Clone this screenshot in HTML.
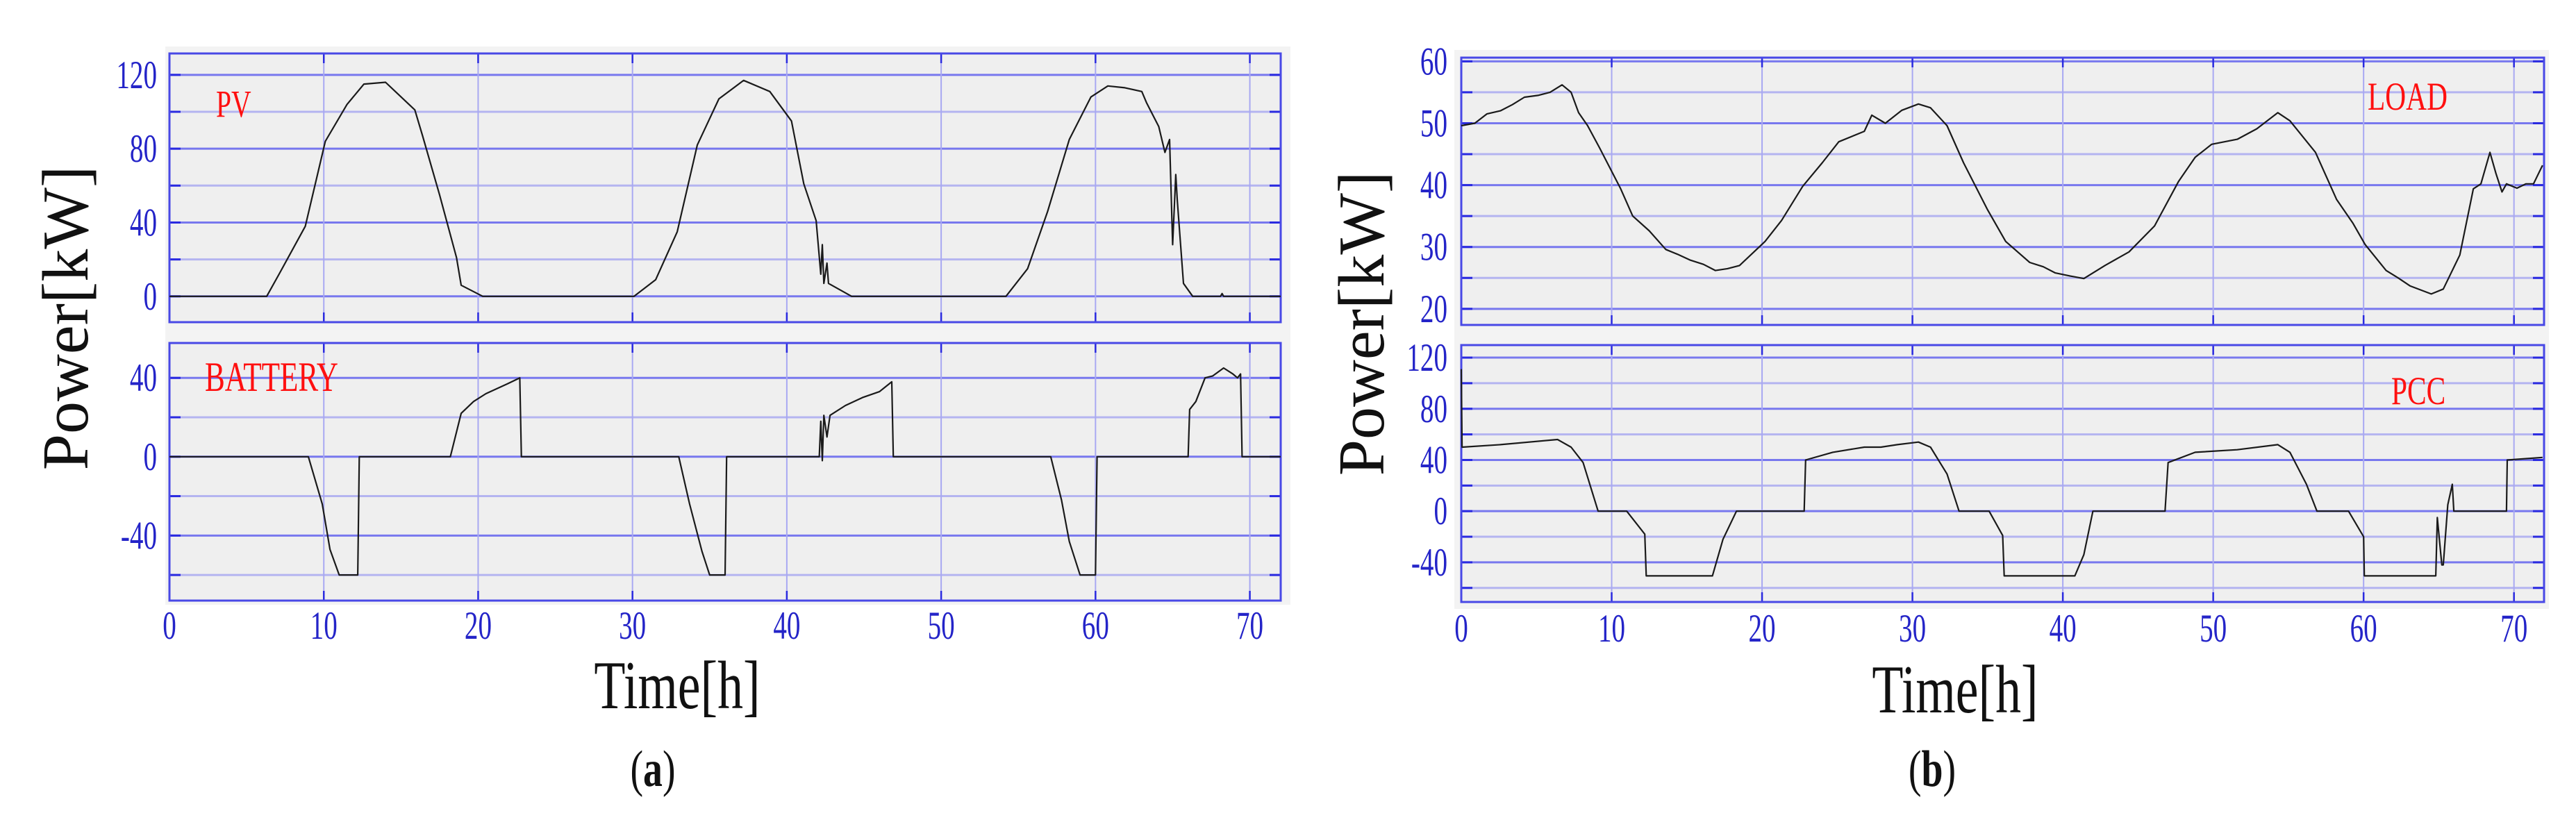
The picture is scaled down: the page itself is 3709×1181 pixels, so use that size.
<!DOCTYPE html>
<html><head><meta charset="utf-8">
<style>
html,body{margin:0;padding:0;background:#fff;}
svg{display:block;}
text{font-family:"Liberation Serif",serif;}
</style></head>
<body>
<svg id="fig" width="3709" height="1181" viewBox="0 0 3709 1181" xmlns="http://www.w3.org/2000/svg">
  <rect x="0" y="0" width="3709" height="1181" fill="#fff"/>
  <g id="root"></g>
</svg>
<script>
// ---- data (time in hours, power in kW) ----
const pvT = [0,6.3,7.1,8.8,10.1,11.5,12.6,14,15.9,16.4,17.5,18.6,18.9,20.3,30.1,31.5,32.9,34.2,35.6,37.2,38.9,40.3,41.1,41.9,42.2,42.3,42.4,42.6,42.7,44.2,54.2,55.6,56.9,58.3,59.7,60.8,61.9,63,63.3,64.1,64.5,64.8,65,65.2,65.3,65.7,66.3,68.1,68.2,68.3,72];
const pvV = [0,0,12,38,84,104,115,116,101,87,55,21,6,0,0,9,35,82,107,117,111,95,61,41,12,28,7,18,7,0,0,15,46,85,108,114,113,111,105,92,78,85,28,66,52,7,0,0,1.5,0,0];
const batT = [0,9.0,9.9,10.4,11,12.2,12.3,18.2,18.9,19.7,20.5,21.9,22.7,22.8,33,33.7,34.5,35,36,36.1,42.1,42.2,42.3,42.4,42.6,42.8,43.8,44.9,46,46.8,46.9,57.1,57.8,58.3,59,60,60.1,66,66.1,66.5,67.1,67.6,68.3,68.9,69.2,69.4,69.5,72];
const batV = [0,0,-24,-47,-60,-60,0,0,22,28,32,37,40,0,0,-24,-48,-60,-60,0,0,18,-2,21,10,21,26,30,33,38,0,0,-22,-43,-60,-60,0,0,24,28,40,41,45,42,40,42,0,0];
const loadT = [0,0.9,1.7,2.6,3.4,4.2,5.1,5.9,6.7,7.3,7.8,8.4,9.2,10.6,11.4,12.5,13.6,14.4,15.2,16.1,16.9,17.7,18.5,20.2,21.3,22.7,24,25.1,26.8,27.3,28.2,29.3,30.4,31.2,32.3,33.4,35,36.2,37.8,38.7,39.5,40.5,41.4,42.8,44.4,46.1,47.7,48.8,49.9,51.6,52.9,54.3,55.1,56.8,58.2,59.3,60.1,61.5,62.3,63.1,64.5,65.3,66.4,67.3,67.8,68.4,68.8,69.2,69.5,70.2,70.8,71.3,71.9];
const loadV = [49.6,50,51.5,52,53,54.2,54.5,55,56.2,55,51.7,49.6,46,39.4,35,32.6,29.6,28.8,27.9,27.2,26.2,26.5,27,30.9,34.3,39.8,43.6,47,48.7,51.3,50,52.1,53.1,52.5,49.6,43.6,36,30.9,27.5,26.8,25.8,25.3,24.9,27,29.2,33.4,40.6,44.5,46.6,47.4,49.1,51.7,50.4,45.3,37.7,33.8,30.4,26.2,25,23.7,22.4,23.2,28.7,39.4,40.2,45.3,41.9,38.9,40.2,39.5,40.2,40.2,43.2];
const pccT = [0,0.05,2.6,6.4,7.3,8.1,9.1,11,12.2,12.3,16.7,17.4,18.3,22.8,22.9,24.7,26.8,27.9,29,30.4,31.2,32.3,33.1,35.1,36,36.1,40.8,41.4,42,46.8,47,48.8,51.6,54.3,55.1,56.2,56.9,59,60,60.05,64.8,64.9,65.2,65.3,65.6,65.9,66,69.5,69.55,71.9];
const pccV = [111,50,52,56,50,38,0,0,-18,-50.6,-50.6,-22,0,0,40,46,50,50,52,54,50,29,0,0,-19,-50.6,-50.6,-34,0,0,38,46,48,52,46,21,0,0,-20,-50.6,-50.6,-5,-42,-42,5,21,0,0,40,42];
const xTicks = [0,10,20,30,40,50,60,70];
const pvTicks = [0,40,80,120];
const batTicks = [-40,0,40];
const loadTicks = [20,30,40,50,60];
const pccTicks = [-40,0,40,80,120];

const NS = "http://www.w3.org/2000/svg";
const root = document.getElementById('root');
function mk(tag, attrs, parent){
  const e = document.createElementNS(NS, tag);
  for (const k in attrs) e.setAttribute(k, attrs[k]);
  (parent||root).appendChild(e);
  return e;
}

function panel(cfg){
  const g = mk('g', {});
  
  
  const xs = t => cfg.x0 + (t - 0) / 72 * (cfg.x1 - cfg.x0);
  const ys = v => cfg.y1 - (v - cfg.vmin) / (cfg.vmax - cfg.vmin) * (cfg.y1 - cfg.y0);
  mk('rect', {x:cfg.x0, y:cfg.y0, width:cfg.x1-cfg.x0, height:cfg.y1-cfg.y0, fill:'#efefef'}, g);
  for (let v = Math.ceil(cfg.vmin/cfg.minor)*cfg.minor; v <= cfg.vmax; v += cfg.minor){
    const y = ys(v);
    const hl = mk('line', {x1:cfg.x0, x2:cfg.x1, y1:y, y2:y, stroke: cfg.majorSet.includes(v) ? '#7878ee' : '#b4b4f0', 'stroke-width':3}, g);
    
    
    mk('line', {x1:cfg.x0, x2:cfg.x0+16, y1:y, y2:y, stroke:'#2a2ae0', 'stroke-width':3}, g);
    mk('line', {x1:cfg.x1-16, x2:cfg.x1, y1:y, y2:y, stroke:'#2a2ae0', 'stroke-width':3}, g);
  }
  xTicks.forEach(t => {
    if (t === 0) return;
    const x = xs(t);
    const vl = mk('line', {x1:x, x2:x, y1:cfg.y0, y2:cfg.y1, stroke:'#a8a8f2', 'stroke-width':2}, g);
    
    
    mk('line', {x1:x, x2:x, y1:cfg.y0, y2:cfg.y0+14, stroke:'#2a2ae0', 'stroke-width':2.5}, g);
    mk('line', {x1:x, x2:x, y1:cfg.y1-14, y2:cfg.y1, stroke:'#2a2ae0', 'stroke-width':2.5}, g);
  });
  mk('rect', {x:cfg.x0, y:cfg.y0, width:cfg.x1-cfg.x0, height:cfg.y1-cfg.y0, fill:'none', stroke:'#4848e6', 'stroke-width':3}, g);
  cfg.ticks.forEach(v => {
    const tl = mk('text', {x:0, y:0, 'text-anchor':'end', 'font-size':46, fill:'#2424c8', transform:'translate(' + cfg.labelX + ',' + (ys(v)+19) + ') scale(0.85,1.25)'}, g);
    tl.textContent = String(v);
    
    
  });
  let d = '';
  cfg.t.forEach((t,i) => { d += (i ? 'L' : 'M') + xs(t).toFixed(1) + ',' + ys(cfg.v[i]).toFixed(1); });
  const p = mk('path', {d:d, fill:'none', stroke:'#1a1a1a', 'stroke-width':2.2, 'stroke-linejoin':'round'}, g);
  
  
  const lb = mk('text', {x:0, y:0, 'font-size':cfg.lfs, fill:'#ff1010', transform:'translate(' + cfg.lx + ',' + cfg.ly + ') scale(0.9,1.25)'}, g);
  lb.textContent = cfg.label;
  
  
  return {xs, ys};
}

function xAxis(x0, x1, y, name){
  xTicks.forEach(t => {
    const x = x0 + t/72*(x1-x0);
    const tx = mk('text', {x:0, y:0, 'text-anchor':'middle', 'font-size':46, fill:'#2424c8', transform:'translate(' + x + ',' + (y+4) + ') scale(0.85,1.25)'});
    tx.textContent = String(t);
    
    
  });
}

mk('rect', {x:238, y:67, width:1620, height:804, fill:'#f3f3f3'});
panel({name:'pv-chart', x0:244, x1:1844, y0:77, y1:464, vmin:-14, vmax:131.6, minor:20, majorSet:[0,40,80,120], ticks:pvTicks, labelX:226, t:pvT, v:pvV, label:'PV', lx:311, ly:168, lfs:44});
panel({name:'battery-chart', x0:244, x1:1844, y0:494, y1:865, vmin:-73, vmax:57.7, minor:20, majorSet:[-40,0,40], ticks:batTicks, labelX:226, t:batT, v:batV, label:'BATTERY', lx:295, ly:563, lfs:48});
xAxis(244, 1844, 916, 'x-tick-label-a');

mk('rect', {x:2094, y:72, width:1576, height:805, fill:'#f3f3f3'});
panel({name:'load-chart', x0:2104, x1:3663, y0:83, y1:468, vmin:17.4, vmax:60.6, minor:5, majorSet:[20,30,40,50,60], ticks:loadTicks, labelX:2084, t:loadT, v:loadV, label:'LOAD', lx:3409, ly:158, lfs:46});
panel({name:'pcc-chart', x0:2104, x1:3663, y0:497, y1:867, vmin:-71, vmax:129.8, minor:20, majorSet:[-40,0,40,80,120], ticks:pccTicks, labelX:2084, t:pccT, v:pccV, label:'PCC', lx:3443, ly:582, lfs:46});
xAxis(2104, 3663, 920, 'x-tick-label-b');
</script>
<div style="position:absolute;left:0;top:0;width:3709px;height:1181px;pointer-events:none;">
  <svg width="3709" height="1181" style="position:absolute;left:0;top:0">
    <text x="0" y="0" transform="translate(126,458) rotate(-90)" text-anchor="middle" font-size="94" fill="#111" font-family="Liberation Serif, serif">Power[kW]</text>
    <text x="0" y="0" transform="translate(975,1020) scale(0.9,1.2)" text-anchor="middle" font-size="82" fill="#111" font-family="Liberation Serif, serif">Time[h]</text>
    <text x="0" y="0" transform="translate(940,1132) scale(0.9,1.2)" text-anchor="middle" font-size="62" fill="#111" font-family="Liberation Serif, serif">(<tspan font-weight="bold">a</tspan>)</text>
    <text x="0" y="0" transform="translate(1992,466) rotate(-90)" text-anchor="middle" font-size="94" fill="#111" font-family="Liberation Serif, serif">Power[kW]</text>
    <text x="0" y="0" transform="translate(2815,1026) scale(0.9,1.2)" text-anchor="middle" font-size="82" fill="#111" font-family="Liberation Serif, serif">Time[h]</text>
    <text x="0" y="0" transform="translate(2782,1132) scale(0.9,1.2)" text-anchor="middle" font-size="62" fill="#111" font-family="Liberation Serif, serif">(<tspan font-weight="bold">b</tspan>)</text>
  </svg>
</div>
</body></html>
